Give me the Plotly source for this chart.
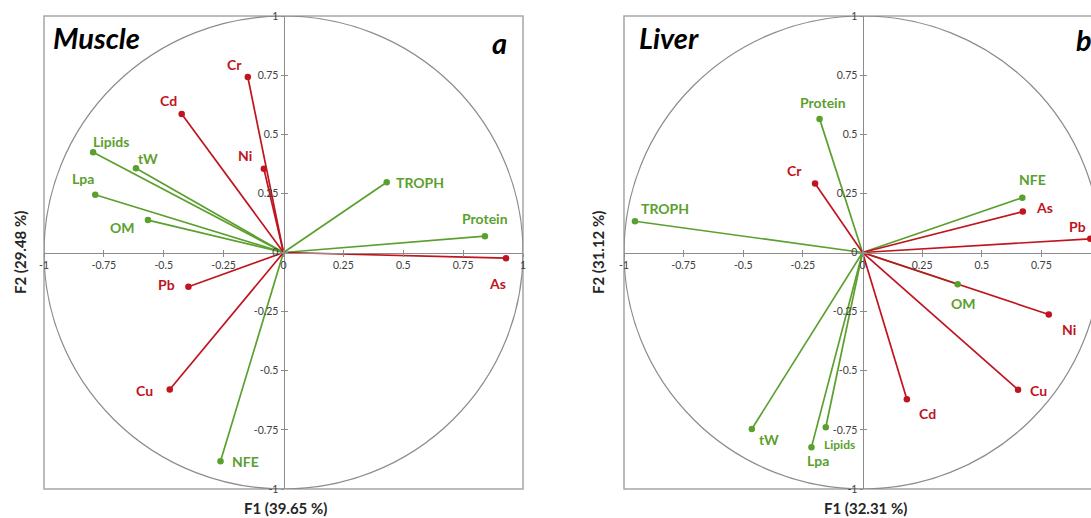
import plotly.graph_objects as go

# ---------------- data ----------------
metals = ["As", "Cd", "Cr", "Cu", "Ni", "Pb"]
nutrients = ["Protein", "Lipids", "NFE", "OM", "tW", "Lpa", "TROPH"]

muscle_metal_f1 = [0.929, -0.425, -0.149, -0.475, -0.082, -0.397]
muscle_metal_f2 = [-0.024, 0.586, 0.742, -0.579, 0.354, -0.145]
muscle_nut_f1 = [0.841, -0.795, -0.263, -0.566, -0.616, -0.786, 0.431]
muscle_nut_f2 = [0.069, 0.424, -0.883, 0.137, 0.356, 0.244, 0.297]

liver_metal_f1 = [0.672, 0.186, -0.199, 0.652, 0.781, 0.955]
liver_metal_f2 = [0.173, -0.620, 0.292, -0.580, -0.262, 0.058]
liver_nut_f1 = [-0.180, -0.154, 0.670, 0.399, -0.464, -0.214, -0.954]
liver_nut_f2 = [0.565, -0.739, 0.232, -0.134, -0.746, -0.823, 0.132]

tick_vals = [-1, -0.75, -0.5, -0.25, 0, 0.25, 0.5, 0.75, 1]
tick_text = ["-1", "-0.75", "-0.5", "-0.25", "0", "0.25", "0.5", "0.75", "1"]

muscle_x_title = "F1 (39.65 %)"
muscle_y_title = "F2 (29.48 %)"
liver_x_title = "F1 (32.31 %)"
liver_y_title = "F2 (31.12 %)"

# ---------------- styles ----------------
RED = "#C0141E"
GREEN = "#5BA02E"
GREY = "#8C8C8C"
FONT = "Lato, 'Open Sans', sans-serif"

# label offsets in pixels (xshift, yshift)
muscle_metal_off = [(-9, -25), (-13, 13), (-13, 13), (-25, -1), (-19, 13), (-22, 2)]
muscle_nut_off = [(0, 18), (18, 11), (25, 0), (-25, -7), (12, 10), (-12, 16), (33, 0)]
liver_metal_off = [(22, 4), (21, -14), (-21, 13), (20, -1), (20, -15), (-13, 12)]
liver_nut_off = [(3, 16), (14, -17), (10, 18), (6, -19), (17, -11), (7, -13), (30, 13)]

W, H = 1091, 518
ydom = [1 - 489 / 518, 1 - 16 / 518]
left_dom = [44 / W, 523 / W]
right_dom = [624 / W, 1.0]
left_range = [-1, 1]
right_range = [-1, 0.958]

fig = go.Figure()


def zero_pos(dom, rng):
    return dom[0] + (0 - rng[0]) / (rng[1] - rng[0]) * (dom[1] - dom[0])


def add_lines(xa, ya, f1, f2, color):
    lx, ly = [], []
    for a, b in zip(f1, f2):
        lx += [0, a, None]
        ly += [0, b, None]
    fig.add_trace(go.Scatter(x=lx, y=ly, mode="lines", xaxis=xa, yaxis=ya,
                             line=dict(color=color, width=1.7),
                             hoverinfo="skip", showlegend=False))


def add_markers(xa, ya, f1, f2, color):
    fig.add_trace(go.Scatter(x=f1, y=f2, mode="markers", xaxis=xa, yaxis=ya,
                             marker=dict(color=color, size=6.5),
                             showlegend=False))


def add_labels(xa, ya, names, f1, f2, offs, color, sizes=None):
    for i, (n, a, b, (dx, dy)) in enumerate(zip(names, f1, f2, offs)):
        s = 14 if sizes is None else sizes[i]
        fig.add_annotation(x=a, y=b, xref=xa, yref=ya, text="<b>%s</b>" % n,
                           showarrow=False, xshift=dx, yshift=dy,
                           font=dict(family=FONT, size=s, color=color))


panels = [
    ("x", "y", muscle_nut_f1, muscle_nut_f2, muscle_metal_f1, muscle_metal_f2),
    ("x2", "y2", liver_nut_f1, liver_nut_f2, liver_metal_f1, liver_metal_f2),
]
for xa, ya, nf1, nf2, mf1, mf2 in panels:
    add_lines(xa, ya, nf1, nf2, GREEN)
    add_lines(xa, ya, mf1, mf2, RED)
    add_markers(xa, ya, mf1, mf2, RED)
    add_markers(xa, ya, nf1, nf2, GREEN)

add_labels("x", "y", metals, muscle_metal_f1, muscle_metal_f2, muscle_metal_off, RED)
add_labels("x", "y", nutrients, muscle_nut_f1, muscle_nut_f2, muscle_nut_off, GREEN)
add_labels("x2", "y2", metals, liver_metal_f1, liver_metal_f2, liver_metal_off, RED)
add_labels("x2", "y2", nutrients, liver_nut_f1, liver_nut_f2, liver_nut_off, GREEN,
           sizes=[14, 12, 14, 14, 14, 14, 14])

# invisible traces so that the overlay (inside-tick) axes are drawn
for xa, ya in [("x3", "y"), ("x", "y3"), ("x4", "y2"), ("x2", "y4")]:
    fig.add_trace(go.Scatter(x=[None], y=[None], xaxis=xa, yaxis=ya,
                             mode="markers", showlegend=False, hoverinfo="skip"))

tickfont = dict(family=FONT, size=10.5, color="#404040")


def axis_def(dom, rng, pos, inside=False, overlay=None):
    d = dict(domain=dom, range=rng, anchor="free", position=pos,
             tickvals=tick_vals, ticktext=tick_text, tickfont=tickfont,
             ticks="inside" if inside else "outside", ticklen=3,
             tickcolor=GREY, tickwidth=1, showgrid=False, zeroline=False,
             showline=not inside, linecolor=GREY, linewidth=1,
             showticklabels=not inside, fixedrange=True, automargin=False)
    if overlay:
        d["overlaying"] = overlay
    return d


y0_pos = zero_pos(ydom, [-1, 1])
lx0 = zero_pos(left_dom, left_range)
rx0 = zero_pos(right_dom, right_range)

fig.update_layout(
    xaxis=axis_def(left_dom, left_range, y0_pos),
    yaxis=axis_def(ydom, [-1, 1], lx0),
    xaxis2=axis_def(right_dom, right_range, y0_pos),
    yaxis2=axis_def(ydom, [-1, 1], rx0),
    xaxis3=axis_def(left_dom, left_range, y0_pos, inside=True, overlay="x"),
    yaxis3=axis_def(ydom, [-1, 1], lx0, inside=True, overlay="y"),
    xaxis4=axis_def(right_dom, right_range, y0_pos, inside=True, overlay="x2"),
    yaxis4=axis_def(ydom, [-1, 1], rx0, inside=True, overlay="y2"),
)

# correlation circles
for xr, yr in [("x", "y"), ("x2", "y2")]:
    fig.add_shape(type="circle", xref=xr, yref=yr, x0=-1, y0=-1, x1=1, y1=1,
                  line=dict(color=GREY, width=1.2), layer="below")

# frames
for dom in [left_dom, [right_dom[0], 1.02]]:
    fig.add_shape(type="rect", xref="paper", yref="paper",
                  x0=dom[0], x1=dom[1], y0=ydom[0], y1=ydom[1],
                  line=dict(color="#A6A6A6", width=1.5), layer="below")


# panel titles and letters
def ptext(x, y, t, size, anchor="left"):
    fig.add_annotation(x=x / W, y=1 - y / H, xref="paper", yref="paper",
                       text="<b><i>%s</i></b>" % t, showarrow=False,
                       xanchor=anchor, yanchor="middle",
                       font=dict(family=FONT, size=size, color="black"))


ptext(51, 38, "Muscle", 29)
ptext(499, 43, "a", 29, "center")
ptext(637, 38, "Liver", 29)
ptext(1074, 40, "b", 29)


# axis titles
def atext(x, y, t, angle=0):
    fig.add_annotation(x=x / W, y=1 - y / H, xref="paper", yref="paper",
                       text="<b>%s</b>" % t, showarrow=False, textangle=angle,
                       xanchor="center", yanchor="middle",
                       font=dict(family=FONT, size=15, color="#262626"))


atext(285, 508, muscle_x_title)
atext(20, 253, muscle_y_title, -90)
atext(865, 508, liver_x_title)
atext(598, 253, liver_y_title, -90)

fig.update_layout(width=W, height=H,
                  margin=dict(l=0, r=0, t=0, b=0, pad=0, autoexpand=False),
                  plot_bgcolor="white", paper_bgcolor="white",
                  showlegend=False, hovermode=False)

fig.write_html("out.html", config={"displayModeBar": False},
               post_script="document.body.style.margin='0';"
                           "document.body.style.overflow='hidden';")
